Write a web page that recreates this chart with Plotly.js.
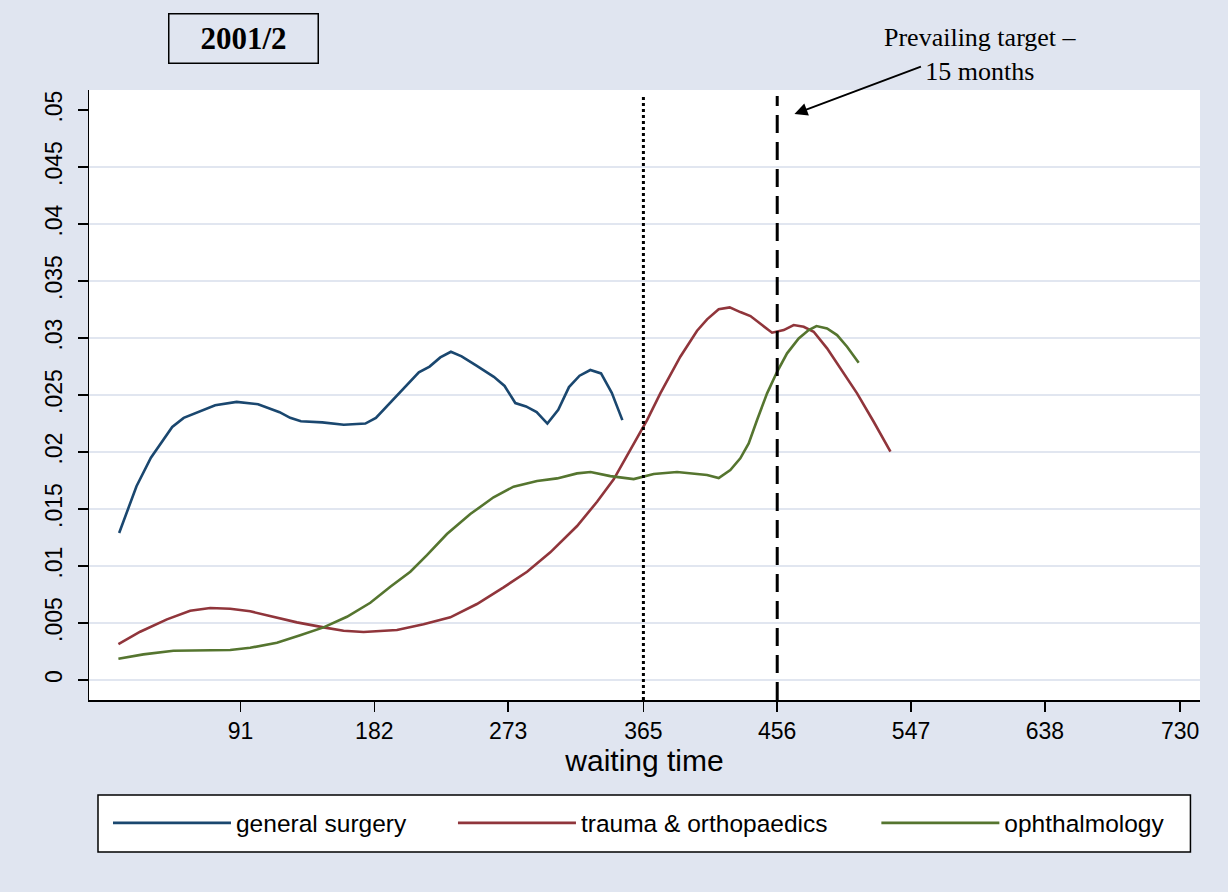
<!DOCTYPE html>
<html>
<head>
<meta charset="utf-8">
<script src="https://cdn.plot.ly/plotly-3.0.1.min.js"></script>
<style>html,body{margin:0;padding:0;background:#E0E5F0;}</style>
</head>
<body>
<div id="chart" style="width:1228px;height:892px;"></div>
<script>
// ---- data ----
const seriesNames = ["general surgery", "trauma & orthopaedics", "ophthalmology"];

const gsDays = [8.5, 20.3, 30.1, 37.3, 44.6, 52.4, 61.6, 73.8, 88.4, 103.0, 117.6, 124.8, 132.1, 146.6, 161.3, 175.9, 183.1, 197.6, 212.3, 219.6, 226.9, 234.1, 241.4, 251.2, 263.3, 270.6, 277.9, 285.2, 292.4, 299.7, 307.1, 314.4, 321.6, 328.9, 336.2, 343.5, 350.7];
const gsVals = [0.0129, 0.0170, 0.0195, 0.0209, 0.0222, 0.0230, 0.02345, 0.0241, 0.0244, 0.0242, 0.0235, 0.0230, 0.0227, 0.0226, 0.0224, 0.0225, 0.0230, 0.0250, 0.0270, 0.0275, 0.0283, 0.0288, 0.0284, 0.0276, 0.0266, 0.0258, 0.0243, 0.0240, 0.0235, 0.0225, 0.0237, 0.0257, 0.0267, 0.0272, 0.0269, 0.0252, 0.0228];

const toDays = [8.0, 22.8, 41.0, 56.8, 70.4, 84.0, 97.6, 113.5, 129.4, 147.5, 161.1, 174.7, 188.3, 197.4, 215.5, 233.7, 251.8, 269.9, 285.9, 301.7, 319.9, 333.5, 344.8, 356.1, 367.5, 376.5, 390.1, 401.5, 408.3, 416.2, 423.7, 430.9, 437.8, 445.7, 452.5, 460.4, 467.2, 474.0, 480.8, 489.9, 499.0, 510.3, 521.6, 533.0];
const toVals = [0.00316, 0.00424, 0.00532, 0.00608, 0.00632, 0.00625, 0.00603, 0.00555, 0.00506, 0.00462, 0.00432, 0.00421, 0.00430, 0.00439, 0.00489, 0.00550, 0.00667, 0.00813, 0.00950, 0.01120, 0.01351, 0.01564, 0.01761, 0.02018, 0.02281, 0.02515, 0.02836, 0.03064, 0.03164, 0.03252, 0.03269, 0.03228, 0.03193, 0.03114, 0.03047, 0.03070, 0.03114, 0.03099, 0.03055, 0.02910, 0.02734, 0.02515, 0.02266, 0.02003];

const ophDays = [8.0, 25.0, 45.4, 63.6, 84.0, 97.6, 115.8, 131.6, 147.5, 163.4, 179.3, 192.9, 206.5, 217.8, 231.4, 247.3, 263.1, 276.7, 292.7, 306.3, 319.9, 329.1, 342.5, 358.4, 372.0, 387.9, 401.5, 408.3, 416.2, 424.1, 430.9, 436.6, 442.3, 449.1, 455.9, 462.7, 470.6, 477.4, 482.7, 489.9, 496.7, 503.5, 511.4];
const ophVals = [0.00187, 0.00225, 0.00257, 0.00261, 0.00263, 0.00283, 0.00327, 0.00392, 0.00462, 0.00555, 0.00678, 0.00818, 0.00950, 0.01096, 0.01281, 0.01456, 0.01603, 0.01696, 0.01746, 0.01769, 0.01813, 0.01825, 0.01789, 0.01763, 0.01807, 0.01825, 0.01807, 0.01798, 0.01772, 0.01842, 0.01945, 0.02076, 0.02281, 0.02515, 0.02704, 0.02866, 0.02997, 0.03070, 0.03105, 0.03085, 0.03026, 0.02924, 0.02783];

const xTickVals = [91, 182, 273, 365, 456, 547, 638, 730];
const yTickVals = [0, 0.005, 0.01, 0.015, 0.02, 0.025, 0.03, 0.035, 0.04, 0.045, 0.05];
const yTickText = ["0", ".005", ".01", ".015", ".02", ".025", ".03", ".035", ".04", ".045", ".05"];
const yGridVals = [0, 0.005, 0.01, 0.015, 0.02, 0.025, 0.03, 0.035, 0.04, 0.045];
const refLineDays = [365, 456];   // dotted: 12 months, dashed: prevailing target 15 months
const panelTitle = "2001/2";
const targetLabel = "Prevailing target –<br>15 months";
const xTitle = "waiting time";

// ---- styling ----
const BG = "#E0E5F0";
const colors = ["#1A476F", "#90353B", "#55752F"];
const sans = "Liberation Sans, Arial, sans-serif";
const serif = "Liberation Serif, Times New Roman, serif";

const traces = [
  {x: gsDays, y: gsVals, name: seriesNames[0], legend: "legend"},
  {x: toDays, y: toVals, name: seriesNames[1], legend: "legend2"},
  {x: ophDays, y: ophVals, name: seriesNames[2], legend: "legend3"}
].map((t, i) => Object.assign(t, {
  type: "scatter", mode: "lines",
  line: {color: colors[i], width: 2.6, shape: "linear"},
  hoverinfo: "skip"
}));

const legendCommon = {
  orientation: "h", xanchor: "left", yanchor: "middle",
  bgcolor: "rgba(0,0,0,0)", borderwidth: 0, itemwidth: 118,
  font: {family: sans, size: 24.5, color: "#000"}
};

const layout = {
  width: 1228, height: 892,
  paper_bgcolor: BG, plot_bgcolor: "#FFFFFF",
  margin: {l: 89, r: 28, t: 90, b: 192},
  showlegend: true,
  legend: Object.assign({}, legendCommon, {x: 0.0171, y: -0.2016}),
  legend2: Object.assign({}, legendCommon, {x: 0.3276, y: -0.2016}),
  legend3: Object.assign({}, legendCommon, {x: 0.7087, y: -0.2016}),
  xaxis: {
    range: [-12, 743.5], tickvals: xTickVals, ticks: "outside", ticklen: 10,
    tickwidth: 1.5, tickcolor: "#000", showgrid: false, zeroline: false,
    showline: true, linecolor: "#000", linewidth: 1.5,
    tickfont: {family: sans, size: 23, color: "#000"},
    title: {text: xTitle, font: {family: sans, size: 30, color: "#000"}, standoff: 6}
  },
  yaxis: {
    range: [-0.00175, 0.05176], tickvals: yTickVals, ticktext: yTickText,
    ticks: "outside", ticklen: 10, tickwidth: 1.5, tickcolor: "#000",
    tickangle: -90, ticklabelstandoff: 6,
    showgrid: false, zeroline: false, showline: true, linecolor: "#000", linewidth: 1.5,
    tickfont: {family: sans, size: 23, color: "#000"}
  },
  yaxis2: {
    overlaying: "y", range: [-0.00175, 0.05176], tickvals: yGridVals,
    showticklabels: false, ticks: "", showgrid: true, gridcolor: "#E1E6F0", gridwidth: 2,
    zeroline: false, showline: false
  },
  shapes: [
    {type: "line", xref: "x", yref: "paper", x0: refLineDays[0], x1: refLineDays[0], y0: 0, y1: 0.99,
     line: {color: "#000", width: 3, dash: "dot"}},
    {type: "line", xref: "x", yref: "paper", x0: refLineDays[1], x1: refLineDays[1], y0: 0, y1: 0.99,
     line: {color: "#000", width: 3, dash: "18px,9px"}},
    {type: "rect", xref: "paper", yref: "paper", x0: 0.0081, x1: 0.9914, y0: -0.2492, y1: -0.1557,
     fillcolor: "#FFFFFF", line: {color: "#000", width: 1.5}, layer: "below"}
  ],
  annotations: [
    {xref: "paper", yref: "paper", x: 0.1395, y: 1.0852, xanchor: "center", yanchor: "middle",
     text: "<b>" + panelTitle + "</b>", showarrow: false, width: 146, height: 46,
     bordercolor: "#000", borderwidth: 1.5, font: {family: serif, size: 31, color: "#000"}},
    {xref: "paper", yref: "paper", x: 0.802, y: 1.059, xanchor: "center", yanchor: "middle",
     text: targetLabel, showarrow: false, font: {family: serif, size: 26, color: "#000"}},
    {xref: "x", yref: "y", x: 467.7, y: 0.04965, ax: 128, ay: -48, text: "",
     showarrow: true, arrowhead: 2, arrowsize: 1.3, arrowwidth: 2, arrowcolor: "#000", standoff: 0}
  ]
};

// invisible trace on yaxis2 so the overlay grid axis (no line at .05) is drawn
traces.push({type: "scatter", mode: "lines", x: [xTickVals[0]], y: [yGridVals[0]], yaxis: "y2",
  showlegend: false, hoverinfo: "skip", line: {width: 0}, opacity: 0});

Plotly.newPlot("chart", traces, layout, {displayModeBar: false, staticPlot: true});
</script>
</body>
</html>
